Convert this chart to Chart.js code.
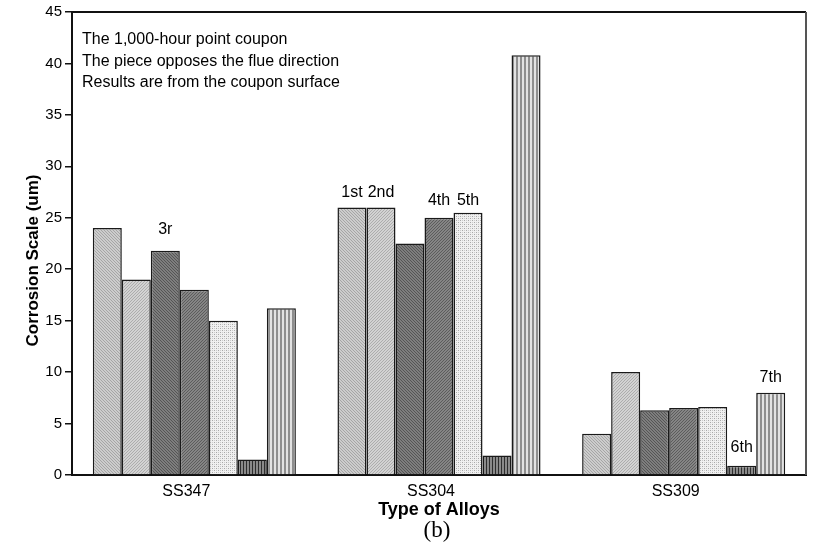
<!DOCTYPE html>
<html>
<head>
<meta charset="utf-8">
<script src="https://cdn.jsdelivr.net/npm/chart.js@4.4.1/dist/chart.umd.min.js"></script>
<style>
  html, body { margin: 0; padding: 0; background: #fff; }
  #wrap { width: 813px; height: 555px; }
</style>
</head>
<body>
<div id="wrap"><canvas id="c" width="813" height="555"></canvas></div>
<script>
// Alloy categories and the corrosion scale (um) of the seven coupon pieces
const alloys = ['SS347', 'SS304', 'SS309'];
const piece1 = [24.0, 26.0, 4.0];
const piece2 = [19.0, 26.0, 10.0];
const piece3 = [21.8, 22.5, 6.3];
const piece4 = [18.0, 25.0, 6.5];
const piece5 = [15.0, 25.5, 6.6];
const piece6 = [1.5, 1.9, 0.9];
const piece7 = [16.2, 40.8, 8.0];

// Y axis ticks
const yTicks = [0, 5, 10, 15, 20, 25, 30, 35, 40, 45];

// Notes written above individual bars: text, alloy index, piece index, level (um)
const noteText  = ['3r', '1st', '2nd', '4th', '5th', '6th', '7th'];
const noteAlloy = [0, 1, 1, 1, 1, 2, 2];
const notePiece = [2, 0, 1, 3, 4, 5, 6];
const noteLevel = [23.9, 27.4, 27.4, 26.7, 26.7, 2.65, 9.45];

// Description block in the upper left of the plot
const infoLines = [
  'The 1,000-hour point coupon',
  'The piece opposes the flue direction',
  'Results are from the coupon surface'
];

const SANS = '"Liberation Sans", Arial, sans-serif';

// Fill patterns for the seven pieces
function makePattern(size, draw) {
  const cv = document.createElement('canvas');
  cv.width = size; cv.height = size;
  const g = cv.getContext('2d');
  draw(g, size);
  return g.createPattern(cv, 'repeat');
}
function diag(base, line, dir) {
  return makePattern(3, (g, s) => {
    g.fillStyle = base; g.fillRect(0, 0, s, s);
    g.fillStyle = line;
    for (let i = 0; i < s; i++) {
      const x = dir > 0 ? i : s - 1 - i;
      g.fillRect(x, i, 1, 1);
    }
  });
}
const fills = [
  diag('#cdcdcd', '#a6a6a6', 1),
  diag('#d3d3d3', '#adadad', -1),
  diag('#7e7e7e', '#555555', 1),
  diag('#858585', '#5c5c5c', -1),
  makePattern(4, (g, s) => {
    g.fillStyle = '#f0f0f0'; g.fillRect(0, 0, s, s);
    g.fillStyle = '#a8a8a8';
    g.fillRect(0, 0, 1, 1); g.fillRect(2, 2, 1, 1);
    g.fillStyle = '#cccccc';
    g.fillRect(2, 0, 1, 1); g.fillRect(0, 2, 1, 1);
  }),
  makePattern(3, (g, s) => {
    g.fillStyle = '#8a8a8a'; g.fillRect(0, 0, s, s);
    g.fillStyle = '#2e2e2e'; g.fillRect(0, 0, 1, s);
  }),
  makePattern(4, (g, s) => {
    g.fillStyle = '#e2e2e2'; g.fillRect(0, 0, s, s);
    g.fillStyle = '#8e8e8e'; g.fillRect(0, 0, 2, s);
  })
];

const series = [piece1, piece2, piece3, piece4, piece5, piece6, piece7];

// Text drawn on top of the chart: notes, frame, axis titles, caption
const overlay = {
  id: 'overlay',
  afterDraw(chart) {
    const ctx = chart.ctx;
    const a = chart.chartArea;
    const ys = chart.scales.y;
    ctx.save();

    // top and right edges of the plot frame
    ctx.lineWidth = 2;
    ctx.strokeStyle = '#111';
    ctx.beginPath();
    ctx.moveTo(a.left, a.top); ctx.lineTo(a.right, a.top);
    ctx.stroke();
    ctx.strokeStyle = '#555';
    ctx.beginPath();
    ctx.moveTo(a.right, a.top); ctx.lineTo(a.right, a.bottom);
    ctx.stroke();

    // description block
    ctx.fillStyle = '#000';
    ctx.font = '16px ' + SANS;
    ctx.textAlign = 'left';
    ctx.textBaseline = 'middle';
    infoLines.forEach((t, i) => ctx.fillText(t, a.left + 10, a.top + 28 + i * 21.5));

    // bar notes
    ctx.textAlign = 'center';
    noteText.forEach((t, i) => {
      const bar = chart.getDatasetMeta(notePiece[i]).data[noteAlloy[i]];
      ctx.fillText(t, bar.x, ys.getPixelForValue(noteLevel[i]));
    });

    // y axis title
    ctx.font = 'bold 17px ' + SANS;
    ctx.save();
    ctx.translate(33, (a.top + a.bottom) / 2 + 17);
    ctx.rotate(-Math.PI / 2);
    ctx.fillText('Corrosion Scale (um)', 0, 0);
    ctx.restore();

    // x axis title and caption
    const cx = (a.left + a.right) / 2;
    ctx.font = 'bold 18px ' + SANS;
    ctx.fillText('Type of Alloys', cx, 510);
    ctx.font = '23px "Liberation Serif", "Times New Roman", serif';
    ctx.fillText('(b)', cx - 2, 531);
    ctx.restore();
  }
};

new Chart(document.getElementById('c'), {
  type: 'bar',
  data: {
    labels: alloys,
    datasets: series.map((d, i) => ({
      label: 'Piece ' + (i + 1),
      data: d,
      backgroundColor: fills[i],
      borderColor: '#1a1a1a',
      borderWidth: 1.5,
      borderSkipped: 'bottom',
      categoryPercentage: 0.83,
      barPercentage: 1.0
    }))
  },
  options: {
    responsive: false,
    animation: false,
    layout: { padding: { left: 0, right: 7, top: 8, bottom: 0 } },
    plugins: { legend: { display: false }, tooltip: { enabled: false } },
    scales: {
      x: {
        grid: { display: false },
        border: { display: true, color: '#111', width: 2 },
        ticks: {
          color: '#000',
          font: { family: SANS, size: 16 },
          padding: -1,
          labelOffset: -8
        },
        afterFit(s) { s.height = 80; }
      },
      y: {
        min: 0,
        max: 45,
        afterBuildTicks(s) { s.ticks = yTicks.map(v => ({ value: v })); },
        grid: { display: true, drawOnChartArea: false, tickLength: 7, color: '#111', lineWidth: 1.5 },
        border: { display: true, color: '#111', width: 2 },
        ticks: {
          color: '#000',
          font: { family: SANS, size: 15 },
          padding: 3
        },
        afterFit(s) { s.width = 72; }
      }
    }
  },
  plugins: [overlay]
});
</script>
</body>
</html>
